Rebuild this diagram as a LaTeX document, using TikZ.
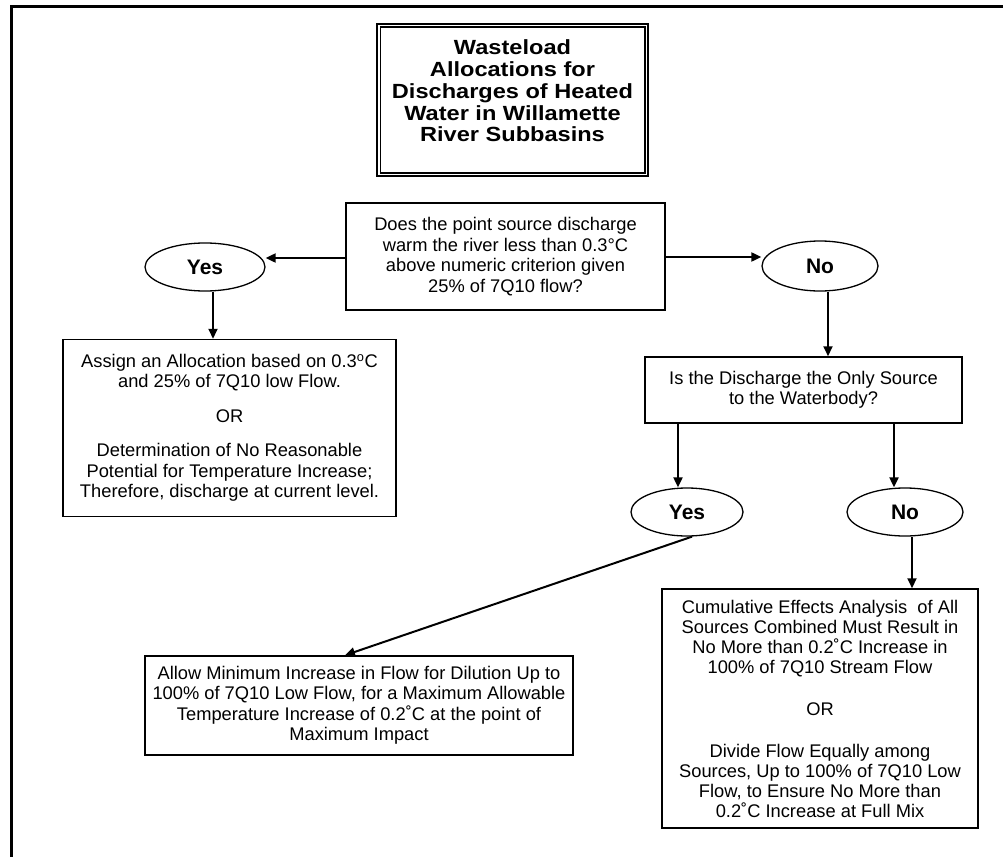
\documentclass[tikz,border=0pt]{standalone}
\usepackage{fontspec}
\setmainfont{Liberation Sans}
\newfontfamily\titlefont{Liberation Sans}[FakeStretch=1.15]
\newfontfamily\labelfont{Liberation Sans}
\usetikzlibrary{shapes.geometric,arrows.meta}
\tikzset{
  box/.style={draw, line width=1.5pt, inner sep=0pt, align=center,
    font=\fontsize{18.3}{20.5}\selectfont},
  oval/.style={draw, ellipse, line width=1.3pt, inner sep=0pt,
    font=\labelfont\bfseries\fontsize{21}{24}\selectfont},
  arr/.style={line width=2pt, -{Triangle[length=10pt,width=9pt]}},
  frame/.style={line width=3.5pt},
}
\begin{document}
\begin{tikzpicture}[x=1pt,y=-1pt]
\useasboundingbox (0,0) rectangle (1003,856);
% outer frame
\draw[frame] (1010,6.5) -- (11.5,6.5) -- (11.5,870);
% title
\node[draw, line width=2.7pt, minimum width=271pt, minimum height=152pt, inner sep=0pt] (title) at (512.5,100) {};
\draw[line width=1.3pt] ([shift={(4.5pt,-4.5pt)}]title.north west) rectangle ([shift={(-4.5pt,4.5pt)}]title.south east);
\node[align=center, inner sep=0pt, font=\titlefont\bfseries\fontsize{20.5}{21.7}\selectfont] (titletext) at (512.5,91)
  {Wasteload\\Allocations for\\Discharges of Heated\\Water in Willamette\\River Subbasins};
% question
\node[box, minimum width=319pt, minimum height=107pt] (q) at (505.5,256.5)
  {Does the point source discharge\\warm the river less than 0.3°C\\above numeric criterion given\\25\% of 7Q10 flow?};
\node[oval, minimum width=120pt, minimum height=48pt] (yes1) at (205,267) {Yes};
\node[oval, minimum width=116pt, minimum height=50pt] (no1) at (820,266) {No};
\node[box, minimum width=333pt, minimum height=177pt] (assign) at (229.5,428)
  {Assign an Allocation based on 0.3\textsuperscript{o}C\\and 25\% of 7Q10 low Flow.\\[14pt]OR\\[14pt]Determination of No Reasonable\\Potential for Temperature Increase;\\Therefore, discharge at current level.};
\node[box, minimum width=317pt, minimum height=66pt] (isq) at (803.5,390)
  {Is the Discharge the Only Source\\to the Waterbody?};
\node[oval, minimum width=112pt, minimum height=48pt] (yes2) at (687,512) {Yes};
\node[oval, minimum width=116pt, minimum height=48pt] (no2) at (905,512) {No};
\node[box, minimum width=428pt, minimum height=99pt] (allow) at (359,705.5)
  {Allow Minimum Increase in Flow for Dilution Up to\\100\% of 7Q10 Low Flow, for a Maximum Allowable\\Temperature Increase of 0.2˚C at the point of\\Maximum Impact};
\node[box, minimum width=316pt, minimum height=239pt, font=\fontsize{18.3}{20}\selectfont] (cum) at (820,708.5)
  {Cumulative Effects Analysis\ \ of All\\Sources Combined Must Result in\\No More than 0.2˚C Increase in\\100\% of 7Q10 Stream Flow\\[22pt]OR\\[22pt]Divide Flow Equally among\\Sources, Up to 100\% of 7Q10 Low\\Flow, to Ensure No More than\\0.2˚C Increase at Full Mix};
% connectors
\draw[arr] ([yshift=-1.5pt]q.west) -- ([yshift=-1.5pt]q.west -| yes1.east);
\draw[arr] ([yshift=-0.5pt]q.east) -- ([yshift=-0.5pt]q.east -| no1.west);
\draw[arr] ([xshift=8pt]yes1.south) -- ([xshift=8pt]yes1.south |- assign.north);
\draw[arr] ([xshift=8pt]no1.south) -- ([xshift=8pt]no1.south |- isq.north);
\draw[arr] ([xshift=-9pt]yes2.north |- isq.south) -- ([xshift=-9pt]yes2.north);
\draw[arr] ([xshift=-11pt]no2.north |- isq.south) -- ([xshift=-11pt]no2.north);
\draw[arr] ([xshift=7pt]no2.south) -- ([xshift=7pt]no2.south |- cum.north);
\draw[arr] ([xshift=5pt]yes2.south) -- ([xshift=-14pt]allow.north);
\end{tikzpicture}
\end{document}
